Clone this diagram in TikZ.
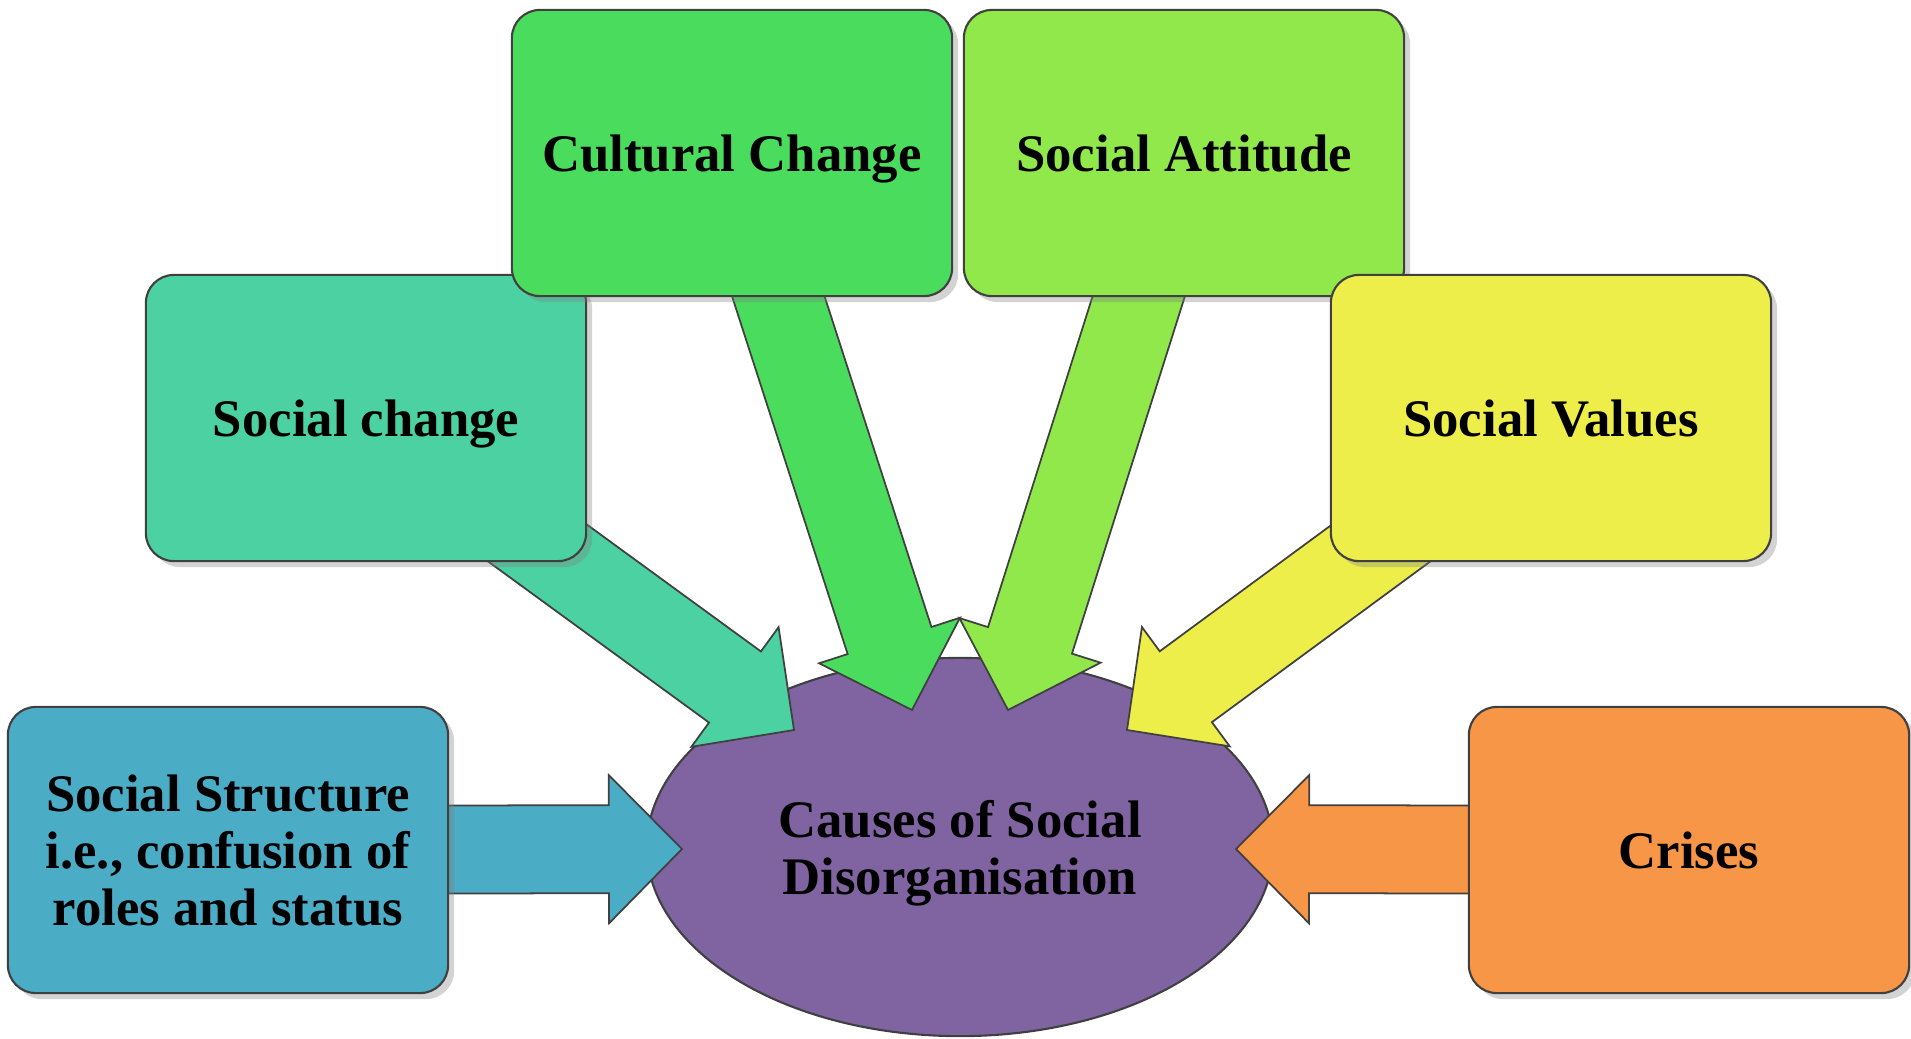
\documentclass[tikz,border=0pt]{standalone}
\usepackage{fontspec}
\setmainfont{Liberation Serif}
\usepackage{tikz}
\usetikzlibrary{%
  shapes,% ellipse
  shadows,%
  positioning,%
  calc%
}
\definecolor{ssblue}{HTML}{4BACC6}
\definecolor{scteal}{HTML}{4BD1A2}
\definecolor{ccgreen}{HTML}{4ADC5C}
\definecolor{sagreen}{HTML}{90E84B}
\definecolor{svyellow}{HTML}{EDEE4A}
\definecolor{crorange}{HTML}{F79646}
\definecolor{ellpurple}{HTML}{8064A2}
\pgfdeclarelayer{ellipselayer}
\pgfdeclarelayer{arrowlayer}
\pgfsetlayers{ellipselayer,arrowlayer,main}
% block arrow from #2 to #3, fill #1
\newcommand{\blockarrow}[3]{%
  \filldraw[causearrow, fill=#1]
    ($(#2)!0.44cm!90:(#3)$) -- ($(#3)!0.73cm!(#2)!0.44cm!-90:(#2)$)
    -- ($(#3)!0.73cm!(#2)!0.74cm!-90:(#2)$) -- (#3)
    -- ($(#3)!0.73cm!(#2)!0.74cm!90:(#2)$) -- ($(#3)!0.73cm!(#2)!0.44cm!90:(#2)$)
    -- ($(#2)!0.44cm!-90:(#3)$) -- cycle;}

\begin{document}
\begin{tikzpicture}[
  x=0.01cm, y=-0.01cm,
  font=\bfseries\fontsize{15}{16.2}\selectfont,
  causebox/.style={rectangle, minimum height=2.86cm, minimum width=4.40cm, draw=black!75, line width=0.6pt, rounded corners=0.28cm, align=center, text depth=0pt, drop shadow={opacity=0.35, shadow xshift=0.6mm, shadow yshift=-0.6mm}},
  causearrow/.style={draw=black!75, line width=0.5pt},
  causeell/.style={ellipse, minimum width=6.26cm, minimum height=3.78cm, draw=black!75, line width=0.6pt, fill=ellpurple, align=center, text depth=0pt}
]
\useasboundingbox (0,0) rectangle (1911,1038);

\begin{pgfonlayer}{ellipselayer}
\node[causeell] (cause) at (960,847) {Causes of Social\\Disorganisation};
\end{pgfonlayer}

\node[causebox, fill=ssblue] (ss) at (228,850) {Social Structure\\i.e., confusion of\\roles and status};
\node[causebox, fill=scteal] (sc) at (366,418) {Social change};
\node[causebox, fill=ccgreen] (cc) at (732,153) {Cultural Change};
\node[causebox, fill=sagreen] (sa) at (1184,153) {Social Attitude};
\node[causebox, fill=svyellow] (sv) at (1551,418) {Social Values};
\node[causebox, fill=crorange] (cr) at (1689,850) {Crises};

\coordinate (tipss) at (682,849);
\coordinate (tipsc) at (794,730);
\coordinate (tipcc) at (912,710);
\coordinate (tipsa) at (1008,710);
\coordinate (tipsv) at (1127,730);
\coordinate (tipcr) at (1236,849);

\begin{pgfonlayer}{arrowlayer}
\blockarrow{ssblue}{ss}{tipss}
\blockarrow{scteal}{sc}{tipsc}
\blockarrow{ccgreen}{cc}{tipcc}
\blockarrow{sagreen}{sa}{tipsa}
\blockarrow{svyellow}{sv}{tipsv}
\blockarrow{crorange}{cr}{tipcr}
\end{pgfonlayer}
\end{tikzpicture}
\end{document}
